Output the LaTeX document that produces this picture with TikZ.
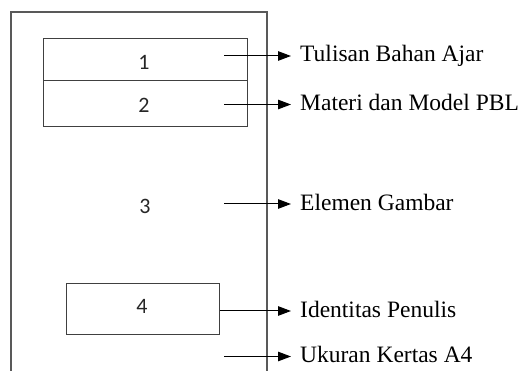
\documentclass[tikz,border=0pt]{standalone}
\usepackage{fontspec}
\setmainfont{Liberation Serif}
\newfontfamily\numfont{Carlito}
\usetikzlibrary{arrows.meta}
\tikzset{
  frame/.style={draw=black!65, line width=1.1pt},
  box/.style={draw=black!75, line width=1pt, inner sep=0pt, anchor=north west},
  num/.style={font=\numfont\fontsize{22}{26}\selectfont, text=black!85, inner sep=0pt},
  lab/.style={font=\fontsize{23.5}{27}\selectfont, inner sep=0pt, anchor=base west},
  arr/.style={draw=black, line width=1pt, -{Triangle[length=13pt,width=9.5pt]}}
}
\begin{document}
\begin{tikzpicture}[x=1pt,y=-1pt]
\useasboundingbox (0,0) rectangle (520,371);
% outer page frame (open at the bottom)
\draw[frame] (11,371) -- (11,12) -- (267,12) -- (267,371);
% boxes
\node[box, minimum width=204pt, minimum height=42pt] (b1) at (43,38) {};
\node[box, minimum width=204pt, minimum height=46pt] (b2) at (43,80) {};
\node[box, minimum width=153pt, minimum height=51pt] (b4) at (66,283) {};
% numbers
\node[num] (n1) at (144,62.5) {1};
\node[num] (n2) at (144,105) {2};
\node[num] (n3) at (145,206) {3};
\node[num] (n4) at (142,306.5) {4};
% arrow start / end points
\coordinate (s1) at (224,56);
\coordinate (s2) at (224,104.5);
\coordinate (s3) at (224,204);
\coordinate (s5) at (224,356.5);
\coordinate (e1) at (291,56);
\coordinate (e2) at (291,104.5);
\coordinate (e3) at (291,204);
\coordinate (e4) at (291,311);
\coordinate (e5) at (291,356.5);
% labels
\node[lab] (t1) at (300,62) {Tulisan Bahan Ajar};
\node[lab] (t2) at (300,111) {Materi dan Model PBL};
\node[lab] (t3) at (300,210.5) {Elemen Gambar};
\node[lab] (t4) at (300,317.5) {Identitas Penulis};
\node[lab] (t5) at (300,363) {Ukuran Kertas A4};
% arrows
\draw[arr] (s1) -- (e1);
\draw[arr] (s2) -- (e2);
\draw[arr] (s3) -- (e3);
\draw[arr] (b4.east |- e4) -- (e4);
\draw[arr] (s5) -- (e5);
\end{tikzpicture}
\end{document}
